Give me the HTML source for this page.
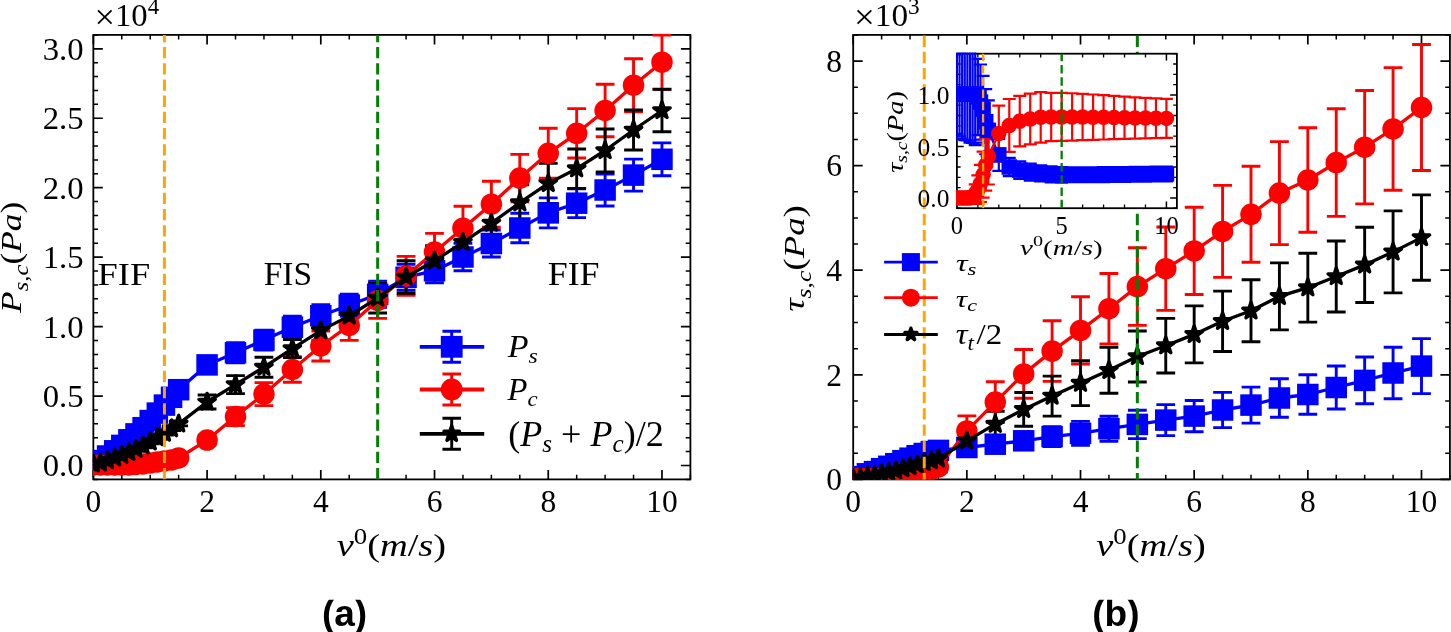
<!DOCTYPE html><html><head><meta charset="utf-8"><style>html,body{margin:0;padding:0;background:#fff;}svg{display:block;}text{font-family:"Liberation Serif", serif;fill:#000;}svg{will-change:transform;}.sans{font-family:"Liberation Sans",sans-serif;font-weight:bold;}</style></head><body>
<svg width="1451" height="632" viewBox="0 0 1451 632">
<rect width="1451" height="632" fill="#fff"/>
<defs><clipPath id="cl"><rect x="92.94999999999999" y="33.699999999999996" width="597.8499999999999" height="446.1"/></clipPath><clipPath id="cr"><rect x="852.8000000000001" y="33.699999999999996" width="597.5" height="446.1"/></clipPath><clipPath id="ci"><rect x="956.1" y="52.5" width="221.6000000000001" height="156.1"/></clipPath><clipPath id="cab"><rect x="0" y="599.8" width="1451" height="40"/></clipPath></defs>
<path d="M93.35,479.4v-9.5M93.35,34.9v9.5M207.07,479.4v-9.5M207.07,34.9v9.5M320.8,479.4v-9.5M320.8,34.9v9.5M434.52,479.4v-9.5M434.52,34.9v9.5M548.25,479.4v-9.5M548.25,34.9v9.5M661.97,479.4v-9.5M661.97,34.9v9.5M93.35,465.51h9.5M690.4,465.51h-9.5M93.35,396.06h9.5M690.4,396.06h-9.5M93.35,326.6h9.5M690.4,326.6h-9.5M93.35,257.15h9.5M690.4,257.15h-9.5M93.35,187.7h9.5M690.4,187.7h-9.5M93.35,118.24h9.5M690.4,118.24h-9.5M93.35,48.79h9.5M690.4,48.79h-9.5" stroke="#000" stroke-width="1.7" fill="none"/>
<path d="M121.78,479.4v-4.7M121.78,34.9v4.7M150.21,479.4v-4.7M150.21,34.9v4.7M178.64,479.4v-4.7M178.64,34.9v4.7M235.5,479.4v-4.7M235.5,34.9v4.7M263.94,479.4v-4.7M263.94,34.9v4.7M292.37,479.4v-4.7M292.37,34.9v4.7M349.23,479.4v-4.7M349.23,34.9v4.7M377.66,479.4v-4.7M377.66,34.9v4.7M406.09,479.4v-4.7M406.09,34.9v4.7M462.95,479.4v-4.7M462.95,34.9v4.7M491.38,479.4v-4.7M491.38,34.9v4.7M519.81,479.4v-4.7M519.81,34.9v4.7M576.68,479.4v-4.7M576.68,34.9v4.7M605.11,479.4v-4.7M605.11,34.9v4.7M633.54,479.4v-4.7M633.54,34.9v4.7M690.4,479.4v-4.7M690.4,34.9v4.7M93.35,479.4h4.7M690.4,479.4h-4.7M93.35,451.62h4.7M690.4,451.62h-4.7M93.35,437.73h4.7M690.4,437.73h-4.7M93.35,423.84h4.7M690.4,423.84h-4.7M93.35,409.95h4.7M690.4,409.95h-4.7M93.35,382.17h4.7M690.4,382.17h-4.7M93.35,368.27h4.7M690.4,368.27h-4.7M93.35,354.38h4.7M690.4,354.38h-4.7M93.35,340.49h4.7M690.4,340.49h-4.7M93.35,312.71h4.7M690.4,312.71h-4.7M93.35,298.82h4.7M690.4,298.82h-4.7M93.35,284.93h4.7M690.4,284.93h-4.7M93.35,271.04h4.7M690.4,271.04h-4.7M93.35,243.26h4.7M690.4,243.26h-4.7M93.35,229.37h4.7M690.4,229.37h-4.7M93.35,215.48h4.7M690.4,215.48h-4.7M93.35,201.59h4.7M690.4,201.59h-4.7M93.35,173.81h4.7M690.4,173.81h-4.7M93.35,159.92h4.7M690.4,159.92h-4.7M93.35,146.02h4.7M690.4,146.02h-4.7M93.35,132.13h4.7M690.4,132.13h-4.7M93.35,104.35h4.7M690.4,104.35h-4.7M93.35,90.46h4.7M690.4,90.46h-4.7M93.35,76.57h4.7M690.4,76.57h-4.7M93.35,62.68h4.7M690.4,62.68h-4.7M93.35,34.9h4.7M690.4,34.9h-4.7" stroke="#000" stroke-width="1.5" fill="none"/>
<rect x="93.35" y="34.9" width="597.05" height="444.5" fill="none" stroke="#000" stroke-width="1.8" stroke-linejoin="miter"/>
<g clip-path="url(#cl)">
<path d="M93.35,460.5V464.5M83.95,460.5H102.75M83.95,464.5H102.75M100.46,458.6V462.6M91.06,458.6H109.86M91.06,462.6H109.86M107.57,454V458M98.17,454H116.97M98.17,458H116.97M114.67,448.8V452.8M105.27,448.8H124.07M105.27,452.8H124.07M121.78,443.4V447.4M112.38,443.4H131.18M112.38,447.4H131.18M128.89,437.8V441.8M119.49,437.8H138.29M119.49,441.8H138.29M136,431.9V435.9M126.6,431.9H145.4M126.6,435.9H145.4M143.1,425.7V429.7M133.7,425.7H152.5M133.7,429.7H152.5M150.21,418.6V422.6M140.81,418.6H159.61M140.81,422.6H159.61M157.32,411.1V415.1M147.92,411.1H166.72M147.92,415.1H166.72M164.43,403.1V407.1M155.03,403.1H173.83M155.03,407.1H173.83M171.54,395.3V399.3M162.14,395.3H180.94M162.14,399.3H180.94M178.64,387.7V391.7M169.24,387.7H188.04M169.24,391.7H188.04M207.07,357.9V371.9M197.67,357.9H216.47M197.67,371.9H216.47M235.5,342.8V362.8M226.1,342.8H244.9M226.1,362.8H244.9M263.94,330.1V350.1M254.54,330.1H273.34M254.54,350.1H273.34M292.37,316.2V338.2M282.97,316.2H301.77M282.97,338.2H301.77M320.8,304.7V326.7M311.4,304.7H330.2M311.4,326.7H330.2M349.23,294.2V316.2M339.83,294.2H358.63M339.83,316.2H358.63M377.66,281.3V307.3M368.26,281.3H387.06M368.26,307.3H387.06M406.09,264.3V290.3M396.69,264.3H415.49M396.69,290.3H415.49M434.52,258.7V282.7M425.12,258.7H443.92M425.12,282.7H443.92M462.95,243.3V270.7M453.55,243.3H472.35M453.55,270.7H472.35M491.38,230V257M481.98,230H500.78M481.98,257H500.78M519.81,213.2V242.8M510.41,213.2H529.21M510.41,242.8H529.21M548.25,197.9V227.9M538.85,197.9H557.65M538.85,227.9H557.65M576.68,188.8V217.6M567.28,188.8H586.08M567.28,217.6H586.08M605.11,174V206M595.71,174H614.51M595.71,206H614.51M633.54,159.1V191.1M624.14,159.1H642.94M624.14,191.1H642.94M661.97,142.9V175.7M652.57,142.9H671.37M652.57,175.7H671.37" stroke="#0000ff" stroke-width="2.9" fill="none"/>
<path d="M93.35,463V467M83.95,463H102.75M83.95,467H102.75M100.46,463V467M91.06,463H109.86M91.06,467H109.86M107.57,463V467M98.17,463H116.97M98.17,467H116.97M114.67,463V467M105.27,463H124.07M105.27,467H124.07M121.78,463V467M112.38,463H131.18M112.38,467H131.18M128.89,463V467M119.49,463H138.29M119.49,467H138.29M136,462.5V466.5M126.6,462.5H145.4M126.6,466.5H145.4M143.1,462V466M133.7,462H152.5M133.7,466H152.5M150.21,461V465M140.81,461H159.61M140.81,465H159.61M157.32,460V464M147.92,460H166.72M147.92,464H166.72M164.43,459V463M155.03,459H173.83M155.03,463H173.83M171.54,458V462M162.14,458H180.94M162.14,462H180.94M178.64,456V460M169.24,456H188.04M169.24,460H188.04M207.07,435.1V445.1M197.67,435.1H216.47M197.67,445.1H216.47M235.5,407.6V425.6M226.1,407.6H244.9M226.1,425.6H244.9M263.94,382.6V405.6M254.54,382.6H273.34M254.54,405.6H273.34M292.37,356.7V382.3M282.97,356.7H301.77M282.97,382.3H301.77M320.8,331V361M311.4,331H330.2M311.4,361H330.2M349.23,310.4V340.4M339.83,310.4H358.63M339.83,340.4H358.63M377.66,282.4V318.4M368.26,282.4H387.06M368.26,318.4H387.06M406.09,256.4V295.4M396.69,256.4H415.49M396.69,295.4H415.49M434.52,233.4V270.4M425.12,233.4H443.92M425.12,270.4H443.92M462.95,206.2V250.2M453.55,206.2H472.35M453.55,250.2H472.35M491.38,181.2V227.2M481.98,181.2H500.78M481.98,227.2H500.78M519.81,154.4V201.8M510.41,154.4H529.21M510.41,201.8H529.21M548.25,128.3V178.3M538.85,128.3H557.65M538.85,178.3H557.65M576.68,108.6V158M567.28,108.6H586.08M567.28,158H586.08M605.11,84.2V136.8M595.71,84.2H614.51M595.71,136.8H614.51M633.54,58.7V111.7M624.14,58.7H642.94M624.14,111.7H642.94M661.97,35V89.4M652.57,35H671.37M652.57,89.4H671.37" stroke="#ff0000" stroke-width="2.9" fill="none"/>
<path d="M93.35,461.75V465.75M83.95,461.75H102.75M83.95,465.75H102.75M100.46,460.8V464.8M91.06,460.8H109.86M91.06,464.8H109.86M107.57,458.5V462.5M98.17,458.5H116.97M98.17,462.5H116.97M114.67,455.9V459.9M105.27,455.9H124.07M105.27,459.9H124.07M121.78,453.2V457.2M112.38,453.2H131.18M112.38,457.2H131.18M128.89,450.4V454.4M119.49,450.4H138.29M119.49,454.4H138.29M136,447.2V451.2M126.6,447.2H145.4M126.6,451.2H145.4M143.1,443.85V447.85M133.7,443.85H152.5M133.7,447.85H152.5M150.21,439.8V443.8M140.81,439.8H159.61M140.81,443.8H159.61M157.32,435.55V439.55M147.92,435.55H166.72M147.92,439.55H166.72M164.43,431.05V435.05M155.03,431.05H173.83M155.03,435.05H173.83M171.54,426.65V430.65M162.14,426.65H180.94M162.14,430.65H180.94M178.64,421.85V425.85M169.24,421.85H188.04M169.24,425.85H188.04M207.07,395V409M197.67,395H216.47M197.67,409H216.47M235.5,375.6V393.6M226.1,375.6H244.9M226.1,393.6H244.9M263.94,357.2V377.2M254.54,357.2H273.34M254.54,377.2H273.34M292.37,339.6V357.6M282.97,339.6H301.77M282.97,357.6H301.77M320.8,320.6V340.6M311.4,320.6H330.2M311.4,340.6H330.2M349.23,305.9V325.9M339.83,305.9H358.63M339.83,325.9H358.63M377.66,283V313M368.26,283H387.06M368.26,313H387.06M406.09,260.8V293.2M396.69,260.8H415.49M396.69,293.2H415.49M434.52,245.8V275.8M425.12,245.8H443.92M425.12,275.8H443.92M462.95,226.3V258.3M453.55,226.3H472.35M453.55,258.3H472.35M491.38,206.1V240.1M481.98,206.1H500.78M481.98,240.1H500.78M519.81,184.7V220.7M510.41,184.7H529.21M510.41,220.7H529.21M548.25,163.4V203.4M538.85,163.4H557.65M538.85,203.4H557.65M576.68,149V188.4M567.28,149H586.08M567.28,188.4H586.08M605.11,129V172M595.71,129H614.51M595.71,172H614.51M633.54,110V150M624.14,110H642.94M624.14,150H642.94M661.97,89.2V131.8M652.57,89.2H671.37M652.57,131.8H671.37" stroke="#000000" stroke-width="2.9" fill="none"/>
<path d="M93.35,462.5 L100.46,460.6 L107.57,456 L114.67,450.8 L121.78,445.4 L128.89,439.8 L136,433.9 L143.1,427.7 L150.21,420.6 L157.32,413.1 L164.43,405.1 L171.54,397.3 L178.64,389.7 L207.07,364.9 L235.5,352.8 L263.94,340.1 L292.37,327.2 L320.8,315.7 L349.23,305.2 L377.66,294.3 L406.09,277.3 L434.52,270.7 L462.95,257 L491.38,243.5 L519.81,228 L548.25,212.9 L576.68,203.2 L605.11,190 L633.54,175.1 L661.97,159.3" stroke="#0000ff" stroke-width="3.3" fill="none" stroke-linejoin="round"/>
<rect x="82.6" y="451.75" width="21.5" height="21.5" fill="#0000ff"/><rect x="89.71" y="449.85" width="21.5" height="21.5" fill="#0000ff"/><rect x="96.82" y="445.25" width="21.5" height="21.5" fill="#0000ff"/><rect x="103.92" y="440.05" width="21.5" height="21.5" fill="#0000ff"/><rect x="111.03" y="434.65" width="21.5" height="21.5" fill="#0000ff"/><rect x="118.14" y="429.05" width="21.5" height="21.5" fill="#0000ff"/><rect x="125.25" y="423.15" width="21.5" height="21.5" fill="#0000ff"/><rect x="132.35" y="416.95" width="21.5" height="21.5" fill="#0000ff"/><rect x="139.46" y="409.85" width="21.5" height="21.5" fill="#0000ff"/><rect x="146.57" y="402.35" width="21.5" height="21.5" fill="#0000ff"/><rect x="153.68" y="394.35" width="21.5" height="21.5" fill="#0000ff"/><rect x="160.79" y="386.55" width="21.5" height="21.5" fill="#0000ff"/><rect x="167.89" y="378.95" width="21.5" height="21.5" fill="#0000ff"/><rect x="196.32" y="354.15" width="21.5" height="21.5" fill="#0000ff"/><rect x="224.75" y="342.05" width="21.5" height="21.5" fill="#0000ff"/><rect x="253.19" y="329.35" width="21.5" height="21.5" fill="#0000ff"/><rect x="281.62" y="316.45" width="21.5" height="21.5" fill="#0000ff"/><rect x="310.05" y="304.95" width="21.5" height="21.5" fill="#0000ff"/><rect x="338.48" y="294.45" width="21.5" height="21.5" fill="#0000ff"/><rect x="366.91" y="283.55" width="21.5" height="21.5" fill="#0000ff"/><rect x="395.34" y="266.55" width="21.5" height="21.5" fill="#0000ff"/><rect x="423.77" y="259.95" width="21.5" height="21.5" fill="#0000ff"/><rect x="452.2" y="246.25" width="21.5" height="21.5" fill="#0000ff"/><rect x="480.63" y="232.75" width="21.5" height="21.5" fill="#0000ff"/><rect x="509.06" y="217.25" width="21.5" height="21.5" fill="#0000ff"/><rect x="537.5" y="202.15" width="21.5" height="21.5" fill="#0000ff"/><rect x="565.93" y="192.45" width="21.5" height="21.5" fill="#0000ff"/><rect x="594.36" y="179.25" width="21.5" height="21.5" fill="#0000ff"/><rect x="622.79" y="164.35" width="21.5" height="21.5" fill="#0000ff"/><rect x="651.22" y="148.55" width="21.5" height="21.5" fill="#0000ff"/>
<path d="M93.35,465 L100.46,465 L107.57,465 L114.67,465 L121.78,465 L128.89,465 L136,464.5 L143.1,464 L150.21,463 L157.32,462 L164.43,461 L171.54,460 L178.64,458 L207.07,440.1 L235.5,416.6 L263.94,394.1 L292.37,369.5 L320.8,346 L349.23,325.4 L377.66,300.4 L406.09,275.9 L434.52,251.9 L462.95,228.2 L491.38,204.2 L519.81,178.1 L548.25,153.3 L576.68,133.3 L605.11,110.5 L633.54,85.2 L661.97,62.2" stroke="#ff0000" stroke-width="3.3" fill="none" stroke-linejoin="round"/>
<circle cx="93.35" cy="465" r="10.75" fill="#ff0000"/><circle cx="100.46" cy="465" r="10.75" fill="#ff0000"/><circle cx="107.57" cy="465" r="10.75" fill="#ff0000"/><circle cx="114.67" cy="465" r="10.75" fill="#ff0000"/><circle cx="121.78" cy="465" r="10.75" fill="#ff0000"/><circle cx="128.89" cy="465" r="10.75" fill="#ff0000"/><circle cx="136" cy="464.5" r="10.75" fill="#ff0000"/><circle cx="143.1" cy="464" r="10.75" fill="#ff0000"/><circle cx="150.21" cy="463" r="10.75" fill="#ff0000"/><circle cx="157.32" cy="462" r="10.75" fill="#ff0000"/><circle cx="164.43" cy="461" r="10.75" fill="#ff0000"/><circle cx="171.54" cy="460" r="10.75" fill="#ff0000"/><circle cx="178.64" cy="458" r="10.75" fill="#ff0000"/><circle cx="207.07" cy="440.1" r="10.75" fill="#ff0000"/><circle cx="235.5" cy="416.6" r="10.75" fill="#ff0000"/><circle cx="263.94" cy="394.1" r="10.75" fill="#ff0000"/><circle cx="292.37" cy="369.5" r="10.75" fill="#ff0000"/><circle cx="320.8" cy="346" r="10.75" fill="#ff0000"/><circle cx="349.23" cy="325.4" r="10.75" fill="#ff0000"/><circle cx="377.66" cy="300.4" r="10.75" fill="#ff0000"/><circle cx="406.09" cy="275.9" r="10.75" fill="#ff0000"/><circle cx="434.52" cy="251.9" r="10.75" fill="#ff0000"/><circle cx="462.95" cy="228.2" r="10.75" fill="#ff0000"/><circle cx="491.38" cy="204.2" r="10.75" fill="#ff0000"/><circle cx="519.81" cy="178.1" r="10.75" fill="#ff0000"/><circle cx="548.25" cy="153.3" r="10.75" fill="#ff0000"/><circle cx="576.68" cy="133.3" r="10.75" fill="#ff0000"/><circle cx="605.11" cy="110.5" r="10.75" fill="#ff0000"/><circle cx="633.54" cy="85.2" r="10.75" fill="#ff0000"/><circle cx="661.97" cy="62.2" r="10.75" fill="#ff0000"/>
<path d="M93.35,463.75 L100.46,462.8 L107.57,460.5 L114.67,457.9 L121.78,455.2 L128.89,452.4 L136,449.2 L143.1,445.85 L150.21,441.8 L157.32,437.55 L164.43,433.05 L171.54,428.65 L178.64,423.85 L207.07,402 L235.5,384.6 L263.94,367.2 L292.37,348.6 L320.8,330.6 L349.23,315.9 L377.66,298 L406.09,277 L434.52,260.8 L462.95,242.3 L491.38,223.1 L519.81,202.7 L548.25,183.4 L576.68,168.7 L605.11,150.5 L633.54,130 L661.97,110.5" stroke="#000000" stroke-width="3.3" fill="none" stroke-linejoin="round"/>
<path d="M93.35,455.15 L91.42,461.09 L85.17,461.09 L90.23,464.77 L88.3,470.71 L93.35,467.03 L98.4,470.71 L96.47,464.77 L101.53,461.09 L95.28,461.09Z" fill="#000000" stroke="#000000" stroke-width="3.4" stroke-linejoin="round"/><path d="M100.46,454.2 L98.53,460.14 L92.28,460.14 L97.33,463.82 L95.4,469.76 L100.46,466.08 L105.51,469.76 L103.58,463.82 L108.64,460.14 L102.39,460.14Z" fill="#000000" stroke="#000000" stroke-width="3.4" stroke-linejoin="round"/><path d="M107.57,451.9 L105.63,457.84 L99.39,457.84 L104.44,461.52 L102.51,467.46 L107.57,463.78 L112.62,467.46 L110.69,461.52 L115.74,457.84 L109.5,457.84Z" fill="#000000" stroke="#000000" stroke-width="3.4" stroke-linejoin="round"/><path d="M114.67,449.3 L112.74,455.24 L106.49,455.24 L111.55,458.92 L109.62,464.86 L114.67,461.18 L119.73,464.86 L117.8,458.92 L122.85,455.24 L116.6,455.24Z" fill="#000000" stroke="#000000" stroke-width="3.4" stroke-linejoin="round"/><path d="M121.78,446.6 L119.85,452.54 L113.6,452.54 L118.66,456.22 L116.73,462.16 L121.78,458.48 L126.84,462.16 L124.91,456.22 L129.96,452.54 L123.71,452.54Z" fill="#000000" stroke="#000000" stroke-width="3.4" stroke-linejoin="round"/><path d="M128.89,443.8 L126.96,449.74 L120.71,449.74 L125.76,453.42 L123.83,459.36 L128.89,455.68 L133.94,459.36 L132.01,453.42 L137.07,449.74 L130.82,449.74Z" fill="#000000" stroke="#000000" stroke-width="3.4" stroke-linejoin="round"/><path d="M136,440.6 L134.07,446.54 L127.82,446.54 L132.87,450.22 L130.94,456.16 L136,452.48 L141.05,456.16 L139.12,450.22 L144.18,446.54 L137.93,446.54Z" fill="#000000" stroke="#000000" stroke-width="3.4" stroke-linejoin="round"/><path d="M143.1,437.25 L141.17,443.19 L134.93,443.19 L139.98,446.87 L138.05,452.81 L143.1,449.13 L148.16,452.81 L146.23,446.87 L151.28,443.19 L145.03,443.19Z" fill="#000000" stroke="#000000" stroke-width="3.4" stroke-linejoin="round"/><path d="M150.21,433.2 L148.28,439.14 L142.03,439.14 L147.09,442.82 L145.16,448.76 L150.21,445.08 L155.27,448.76 L153.34,442.82 L158.39,439.14 L152.14,439.14Z" fill="#000000" stroke="#000000" stroke-width="3.4" stroke-linejoin="round"/><path d="M157.32,428.95 L155.39,434.89 L149.14,434.89 L154.2,438.57 L152.26,444.51 L157.32,440.83 L162.37,444.51 L160.44,438.57 L165.5,434.89 L159.25,434.89Z" fill="#000000" stroke="#000000" stroke-width="3.4" stroke-linejoin="round"/><path d="M164.43,424.45 L162.5,430.39 L156.25,430.39 L161.3,434.07 L159.37,440.01 L164.43,436.33 L169.48,440.01 L167.55,434.07 L172.61,430.39 L166.36,430.39Z" fill="#000000" stroke="#000000" stroke-width="3.4" stroke-linejoin="round"/><path d="M171.54,420.05 L169.6,425.99 L163.36,425.99 L168.41,429.67 L166.48,435.61 L171.54,431.93 L176.59,435.61 L174.66,429.67 L179.71,425.99 L173.47,425.99Z" fill="#000000" stroke="#000000" stroke-width="3.4" stroke-linejoin="round"/><path d="M178.64,415.25 L176.71,421.19 L170.46,421.19 L175.52,424.87 L173.59,430.81 L178.64,427.13 L183.7,430.81 L181.77,424.87 L186.82,421.19 L180.57,421.19Z" fill="#000000" stroke="#000000" stroke-width="3.4" stroke-linejoin="round"/><path d="M207.07,393.4 L205.14,399.34 L198.89,399.34 L203.95,403.02 L202.02,408.96 L207.07,405.28 L212.13,408.96 L210.2,403.02 L215.25,399.34 L209,399.34Z" fill="#000000" stroke="#000000" stroke-width="3.4" stroke-linejoin="round"/><path d="M235.5,376 L233.57,381.94 L227.33,381.94 L232.38,385.62 L230.45,391.56 L235.5,387.88 L240.56,391.56 L238.63,385.62 L243.68,381.94 L237.44,381.94Z" fill="#000000" stroke="#000000" stroke-width="3.4" stroke-linejoin="round"/><path d="M263.94,358.6 L262,364.54 L255.76,364.54 L260.81,368.22 L258.88,374.16 L263.94,370.48 L268.99,374.16 L267.06,368.22 L272.11,364.54 L265.87,364.54Z" fill="#000000" stroke="#000000" stroke-width="3.4" stroke-linejoin="round"/><path d="M292.37,340 L290.44,345.94 L284.19,345.94 L289.24,349.62 L287.31,355.56 L292.37,351.88 L297.42,355.56 L295.49,349.62 L300.55,345.94 L294.3,345.94Z" fill="#000000" stroke="#000000" stroke-width="3.4" stroke-linejoin="round"/><path d="M320.8,322 L318.87,327.94 L312.62,327.94 L317.67,331.62 L315.74,337.56 L320.8,333.88 L325.85,337.56 L323.92,331.62 L328.98,327.94 L322.73,327.94Z" fill="#000000" stroke="#000000" stroke-width="3.4" stroke-linejoin="round"/><path d="M349.23,307.3 L347.3,313.24 L341.05,313.24 L346.1,316.92 L344.17,322.86 L349.23,319.18 L354.28,322.86 L352.35,316.92 L357.41,313.24 L351.16,313.24Z" fill="#000000" stroke="#000000" stroke-width="3.4" stroke-linejoin="round"/><path d="M377.66,289.4 L375.73,295.34 L369.48,295.34 L374.54,299.02 L372.6,304.96 L377.66,301.28 L382.71,304.96 L380.78,299.02 L385.84,295.34 L379.59,295.34Z" fill="#000000" stroke="#000000" stroke-width="3.4" stroke-linejoin="round"/><path d="M406.09,268.4 L404.16,274.34 L397.91,274.34 L402.97,278.02 L401.04,283.96 L406.09,280.28 L411.15,283.96 L409.21,278.02 L414.27,274.34 L408.02,274.34Z" fill="#000000" stroke="#000000" stroke-width="3.4" stroke-linejoin="round"/><path d="M434.52,252.2 L432.59,258.14 L426.34,258.14 L431.4,261.82 L429.47,267.76 L434.52,264.08 L439.58,267.76 L437.65,261.82 L442.7,258.14 L436.45,258.14Z" fill="#000000" stroke="#000000" stroke-width="3.4" stroke-linejoin="round"/><path d="M462.95,233.7 L461.02,239.64 L454.77,239.64 L459.83,243.32 L457.9,249.26 L462.95,245.58 L468.01,249.26 L466.08,243.32 L471.13,239.64 L464.88,239.64Z" fill="#000000" stroke="#000000" stroke-width="3.4" stroke-linejoin="round"/><path d="M491.38,214.5 L489.45,220.44 L483.2,220.44 L488.26,224.12 L486.33,230.06 L491.38,226.38 L496.44,230.06 L494.51,224.12 L499.56,220.44 L493.31,220.44Z" fill="#000000" stroke="#000000" stroke-width="3.4" stroke-linejoin="round"/><path d="M519.81,194.1 L517.88,200.04 L511.64,200.04 L516.69,203.72 L514.76,209.66 L519.81,205.98 L524.87,209.66 L522.94,203.72 L527.99,200.04 L521.75,200.04Z" fill="#000000" stroke="#000000" stroke-width="3.4" stroke-linejoin="round"/><path d="M548.25,174.8 L546.31,180.74 L540.07,180.74 L545.12,184.42 L543.19,190.36 L548.25,186.68 L553.3,190.36 L551.37,184.42 L556.42,180.74 L550.18,180.74Z" fill="#000000" stroke="#000000" stroke-width="3.4" stroke-linejoin="round"/><path d="M576.68,160.1 L574.75,166.04 L568.5,166.04 L573.55,169.72 L571.62,175.66 L576.68,171.98 L581.73,175.66 L579.8,169.72 L584.86,166.04 L578.61,166.04Z" fill="#000000" stroke="#000000" stroke-width="3.4" stroke-linejoin="round"/><path d="M605.11,141.9 L603.18,147.84 L596.93,147.84 L601.98,151.52 L600.05,157.46 L605.11,153.78 L610.16,157.46 L608.23,151.52 L613.29,147.84 L607.04,147.84Z" fill="#000000" stroke="#000000" stroke-width="3.4" stroke-linejoin="round"/><path d="M633.54,121.4 L631.61,127.34 L625.36,127.34 L630.41,131.02 L628.48,136.96 L633.54,133.28 L638.59,136.96 L636.66,131.02 L641.72,127.34 L635.47,127.34Z" fill="#000000" stroke="#000000" stroke-width="3.4" stroke-linejoin="round"/><path d="M661.97,101.9 L660.04,107.84 L653.79,107.84 L658.84,111.52 L656.91,117.46 L661.97,113.78 L667.02,117.46 L665.09,111.52 L670.15,107.84 L663.9,107.84Z" fill="#000000" stroke="#000000" stroke-width="3.4" stroke-linejoin="round"/>
<path d="M164.43,479.3V34.9" stroke="#ffa500" stroke-width="3" stroke-dasharray="11.31 4.88" stroke-dashoffset="0" fill="none"/>
<path d="M377.66,479.3V34.9" stroke="#008000" stroke-width="3" stroke-dasharray="11.31 4.88" stroke-dashoffset="0" fill="none"/>
</g>
<text x="93.35" y="512.3" font-size="31.5" text-anchor="middle" >0</text>
<text x="207.07" y="512.3" font-size="31.5" text-anchor="middle" >2</text>
<text x="320.8" y="512.3" font-size="31.5" text-anchor="middle" >4</text>
<text x="434.52" y="512.3" font-size="31.5" text-anchor="middle" >6</text>
<text x="548.25" y="512.3" font-size="31.5" text-anchor="middle" >8</text>
<text x="661.97" y="512.3" font-size="31.5" text-anchor="middle" >10</text>
<text transform="translate(83.6,476.41) scale(1.04,1.02)" font-size="31.5" text-anchor="end">0.0</text>
<text transform="translate(83.6,406.96) scale(1.04,1.02)" font-size="31.5" text-anchor="end">0.5</text>
<text transform="translate(83.6,337.5) scale(1.04,1.02)" font-size="31.5" text-anchor="end">1.0</text>
<text transform="translate(83.6,268.05) scale(1.04,1.02)" font-size="31.5" text-anchor="end">1.5</text>
<text transform="translate(83.6,198.6) scale(1.04,1.02)" font-size="31.5" text-anchor="end">2.0</text>
<text transform="translate(83.6,129.14) scale(1.04,1.02)" font-size="31.5" text-anchor="end">2.5</text>
<text transform="translate(83.6,59.69) scale(1.04,1.02)" font-size="31.5" text-anchor="end">3.0</text>
<text x="100" y="200" font-size="31.5" transform="translate(97.6,0) scale(1.0390,1.0077) translate(-103,-174)" ><tspan font-size="35" dy="3">×</tspan><tspan dy="-3">10</tspan><tspan font-size="22" dy="-12">4</tspan></text>
<text x="100" y="200" font-size="31.5" transform="translate(337.9,529.5) scale(1.2195,1.0094) translate(-101,-174)" ><tspan font-style="italic">v</tspan><tspan font-size="22" dy="-12">0</tspan><tspan dy="12">(</tspan><tspan font-style="italic">m</tspan>/<tspan font-style="italic">s</tspan>)</text>
<text x="100" y="200" font-size="31.5" transform="translate(0,312.9) rotate(-90) scale(1.1224,0.9500) translate(-100,-178)" ><tspan font-style="italic">P</tspan><tspan font-size="22" dy="7" font-style="italic">s</tspan><tspan font-size="22">,</tspan><tspan font-size="22" dy="0" font-style="italic">c</tspan><tspan dy="-7">(</tspan><tspan font-style="italic">Pa</tspan>)</text>
<text x="100" y="200" font-size="30" transform="translate(98.8,264.6) scale(1.2122,1.0842) translate(-101,-181)" >FIF</text>
<text x="100" y="200" font-size="30" transform="translate(264.8,263.5) scale(1.1146,1.1579) translate(-101,-181)" >FIS</text>
<text x="100" y="200" font-size="30" transform="translate(548.9,263.8) scale(1.1951,1.1158) translate(-101,-181)" >FIF</text>
<path d="M419.8,346.8H484.2" stroke="#0000ff" stroke-width="3.8"/>
<path d="M451.7,331.3V362.3M442.45,331.3H460.95M442.45,362.3H460.95" stroke="#0000ff" stroke-width="2.9" fill="none"/>
<rect x="440.8" y="335.9" width="21.8" height="21.8" fill="#0000ff"/>
<text x="100" y="200" font-size="31.5" transform="translate(507.8,337) scale(1.0815,0.9704) translate(-100,-179)" ><tspan font-style="italic">P</tspan><tspan font-size="22" dy="6" font-style="italic">s</tspan></text>
<path d="M419.8,389.5H484.2" stroke="#ff0000" stroke-width="3.8"/>
<path d="M451.7,374V405M442.45,374H460.95M442.45,405H460.95" stroke="#ff0000" stroke-width="2.9" fill="none"/>
<circle cx="451.7" cy="389.5" r="10.9" fill="#ff0000"/>
<text x="100" y="200" font-size="31.5" transform="translate(507.6,379.4) scale(1.0379,0.9741) translate(-100,-179)" ><tspan font-style="italic">P</tspan><tspan font-size="22" dy="6" font-style="italic">c</tspan></text>
<path d="M419.8,433.8H484.2" stroke="#000000" stroke-width="3.8"/>
<path d="M451.7,418.3V449.3M442.45,418.3H460.95M442.45,449.3H460.95" stroke="#000000" stroke-width="2.9" fill="none"/>
<path d="M451.7,425.7 L449.88,431.3 L444,431.3 L448.76,434.76 L446.94,440.35 L451.7,436.89 L456.46,440.35 L454.64,434.76 L459.4,431.3 L453.52,431.3Z" fill="#000000" stroke="#000000" stroke-width="3.4" stroke-linejoin="round"/>
<text x="100" y="200" font-size="31.5" transform="translate(509.4,421.1) scale(1.1451,1.1107) translate(-101,-178)" >(<tspan font-style="italic">P</tspan><tspan font-size="22" dy="6" font-style="italic">s</tspan><tspan dy="-6"> + </tspan><tspan font-style="italic">P</tspan><tspan font-size="22" dy="6" font-style="italic">c</tspan><tspan dy="-6">)/2</tspan></text>
<path d="M853.2,479.4v-9.5M853.2,34.9v9.5M966.86,479.4v-9.5M966.86,34.9v9.5M1080.51,479.4v-9.5M1080.51,34.9v9.5M1194.17,479.4v-9.5M1194.17,34.9v9.5M1307.83,479.4v-9.5M1307.83,34.9v9.5M1421.49,479.4v-9.5M1421.49,34.9v9.5M853.2,479.4h9.5M1449.9,479.4h-9.5M853.2,374.81h9.5M1449.9,374.81h-9.5M853.2,270.22h9.5M1449.9,270.22h-9.5M853.2,165.64h9.5M1449.9,165.64h-9.5M853.2,61.05h9.5M1449.9,61.05h-9.5" stroke="#000" stroke-width="1.7" fill="none"/>
<path d="M881.61,479.4v-4.7M881.61,34.9v4.7M910.03,479.4v-4.7M910.03,34.9v4.7M938.44,479.4v-4.7M938.44,34.9v4.7M995.27,479.4v-4.7M995.27,34.9v4.7M1023.69,479.4v-4.7M1023.69,34.9v4.7M1052.1,479.4v-4.7M1052.1,34.9v4.7M1108.93,479.4v-4.7M1108.93,34.9v4.7M1137.34,479.4v-4.7M1137.34,34.9v4.7M1165.76,479.4v-4.7M1165.76,34.9v4.7M1222.59,479.4v-4.7M1222.59,34.9v4.7M1251,479.4v-4.7M1251,34.9v4.7M1279.41,479.4v-4.7M1279.41,34.9v4.7M1336.24,479.4v-4.7M1336.24,34.9v4.7M1364.66,479.4v-4.7M1364.66,34.9v4.7M1393.07,479.4v-4.7M1393.07,34.9v4.7M1449.9,479.4v-4.7M1449.9,34.9v4.7M853.2,453.25h4.7M1449.9,453.25h-4.7M853.2,427.11h4.7M1449.9,427.11h-4.7M853.2,400.96h4.7M1449.9,400.96h-4.7M853.2,348.66h4.7M1449.9,348.66h-4.7M853.2,322.52h4.7M1449.9,322.52h-4.7M853.2,296.37h4.7M1449.9,296.37h-4.7M853.2,244.08h4.7M1449.9,244.08h-4.7M853.2,217.93h4.7M1449.9,217.93h-4.7M853.2,191.78h4.7M1449.9,191.78h-4.7M853.2,139.49h4.7M1449.9,139.49h-4.7M853.2,113.34h4.7M1449.9,113.34h-4.7M853.2,87.19h4.7M1449.9,87.19h-4.7M853.2,34.9h4.7M1449.9,34.9h-4.7" stroke="#000" stroke-width="1.5" fill="none"/>
<rect x="853.2" y="34.9" width="596.7" height="444.5" fill="none" stroke="#000" stroke-width="1.8" stroke-linejoin="miter"/>
<g clip-path="url(#cr)">
<path d="M853.2,476V480M843.8,476H862.6M843.8,480H862.6M860.3,474.7V478.7M850.9,474.7H869.7M850.9,478.7H869.7M867.41,471.8V475.8M858.01,471.8H876.81M858.01,475.8H876.81M874.51,469.6V473.6M865.11,469.6H883.91M865.11,473.6H883.91M881.61,466.7V470.7M872.21,466.7H891.01M872.21,470.7H891.01M888.72,464.3V468.3M879.32,464.3H898.12M879.32,468.3H898.12M895.82,461.7V465.7M886.42,461.7H905.22M886.42,465.7H905.22M902.93,458.7V462.7M893.53,458.7H912.33M893.53,462.7H912.33M910.03,456.2V460.2M900.63,456.2H919.43M900.63,460.2H919.43M917.13,453.7V457.7M907.73,453.7H926.53M907.73,457.7H926.53M924.24,451.5V455.5M914.84,451.5H933.64M914.84,455.5H933.64M931.34,449.6V453.6M921.94,449.6H940.74M921.94,453.6H940.74M938.44,448.4V452.4M929.04,448.4H947.84M929.04,452.4H947.84M966.86,441.5V453.5M957.46,441.5H976.26M957.46,453.5H976.26M995.27,437.2V451.2M985.87,437.2H1004.67M985.87,451.2H1004.67M1023.69,432.8V448.8M1014.29,432.8H1033.09M1014.29,448.8H1033.09M1052.1,426.6V446.6M1042.7,426.6H1061.5M1042.7,446.6H1061.5M1080.51,421.4V445.4M1071.11,421.4H1089.91M1071.11,445.4H1089.91M1108.93,416.2V441.2M1099.53,416.2H1118.33M1099.53,441.2H1118.33M1137.34,410.2V438.6M1127.94,410.2H1146.74M1127.94,438.6H1146.74M1165.76,404.6V435.6M1156.36,404.6H1175.16M1156.36,435.6H1175.16M1194.17,400.5V431.7M1184.77,400.5H1203.57M1184.77,431.7H1203.57M1222.59,392.4V427.6M1213.19,392.4H1231.99M1213.19,427.6H1231.99M1251,387.1V423.1M1241.6,387.1H1260.4M1241.6,423.1H1260.4M1279.41,378.8V417.2M1270.01,378.8H1288.81M1270.01,417.2H1288.81M1307.83,374.7V414.3M1298.43,374.7H1317.23M1298.43,414.3H1317.23M1336.24,366V409M1326.84,366H1345.64M1326.84,409H1345.64M1364.66,357V403.8M1355.26,357H1374.06M1355.26,403.8H1374.06M1393.07,347.2V398.8M1383.67,347.2H1402.47M1383.67,398.8H1402.47M1421.49,338.6V393.6M1412.09,338.6H1430.89M1412.09,393.6H1430.89" stroke="#0000ff" stroke-width="2.9" fill="none"/>
<path d="M853.2,477.5V479.5M843.8,477.5H862.6M843.8,479.5H862.6M860.3,477.5V479.5M850.9,477.5H869.7M850.9,479.5H869.7M867.41,477.5V479.5M858.01,477.5H876.81M858.01,479.5H876.81M874.51,477.5V479.5M865.11,477.5H883.91M865.11,479.5H883.91M881.61,477.5V479.5M872.21,477.5H891.01M872.21,479.5H891.01M888.72,477.5V479.5M879.32,477.5H898.12M879.32,479.5H898.12M895.82,475.5V479.5M886.42,475.5H905.22M886.42,479.5H905.22M902.93,474.5V478.5M893.53,474.5H912.33M893.53,478.5H912.33M910.03,472V478M900.63,472H919.43M900.63,478H919.43M917.13,470.5V476.5M907.73,470.5H926.53M907.73,476.5H926.53M924.24,467.5V475.5M914.84,467.5H933.64M914.84,475.5H933.64M931.34,465.5V473.5M921.94,465.5H940.74M921.94,473.5H940.74M938.44,462V472M929.04,462H947.84M929.04,472H947.84M966.86,415.9V445.9M957.46,415.9H976.26M957.46,445.9H976.26M995.27,381.7V422.5M985.87,381.7H1004.67M985.87,422.5H1004.67M1023.69,349.5V398.3M1014.29,349.5H1033.09M1014.29,398.3H1033.09M1052.1,320.8V381.4M1042.7,320.8H1061.5M1042.7,381.4H1061.5M1080.51,296.8V364M1071.11,296.8H1089.91M1071.11,364H1089.91M1108.93,273.5V343.9M1099.53,273.5H1118.33M1099.53,343.9H1118.33M1137.34,247.8V325.4M1127.94,247.8H1146.74M1127.94,325.4H1146.74M1165.76,227V310.4M1156.36,227H1175.16M1156.36,310.4H1175.16M1194.17,207.3V294.5M1184.77,207.3H1203.57M1184.77,294.5H1203.57M1222.59,185.4V277.4M1213.19,185.4H1231.99M1213.19,277.4H1231.99M1251,166.3V262.3M1241.6,166.3H1260.4M1241.6,262.3H1260.4M1279.41,141.6V244.6M1270.01,141.6H1288.81M1270.01,244.6H1288.81M1307.83,127.7V232.3M1298.43,127.7H1317.23M1298.43,232.3H1317.23M1336.24,108.8V216.4M1326.84,108.8H1345.64M1326.84,216.4H1345.64M1364.66,90.5V203.9M1355.26,90.5H1374.06M1355.26,203.9H1374.06M1393.07,67.6V190.2M1383.67,67.6H1402.47M1383.67,190.2H1402.47M1421.49,44.5V170.5M1412.09,44.5H1430.89M1412.09,170.5H1430.89" stroke="#ff0000" stroke-width="2.9" fill="none"/>
<path d="M853.2,476.25V480.25M843.8,476.25H862.6M843.8,480.25H862.6M860.3,475.6V479.6M850.9,475.6H869.7M850.9,479.6H869.7M867.41,474.15V478.15M858.01,474.15H876.81M858.01,478.15H876.81M874.51,473.05V477.05M865.11,473.05H883.91M865.11,477.05H883.91M881.61,471.6V475.6M872.21,471.6H891.01M872.21,475.6H891.01M888.72,470.4V474.4M879.32,470.4H898.12M879.32,474.4H898.12M895.82,468.6V472.6M886.42,468.6H905.22M886.42,472.6H905.22M902.93,466.6V470.6M893.53,466.6H912.33M893.53,470.6H912.33M910.03,464.6V468.6M900.63,464.6H919.43M900.63,468.6H919.43M917.13,462.6V466.6M907.73,462.6H926.53M907.73,466.6H926.53M924.24,460.5V464.5M914.84,460.5H933.64M914.84,464.5H933.64M931.34,458.55V462.55M921.94,458.55H940.74M921.94,462.55H940.74M938.44,456.7V460.7M929.04,456.7H947.84M929.04,460.7H947.84M966.86,431.9V449.9M957.46,431.9H976.26M957.46,449.9H976.26M995.27,411.2V437.2M985.87,411.2H1004.67M985.87,437.2H1004.67M1023.69,392.5V426.3M1014.29,392.5H1033.09M1014.29,426.3H1033.09M1052.1,376.1V416.1M1042.7,376.1H1061.5M1042.7,416.1H1061.5M1080.51,360.8V405.6M1071.11,360.8H1089.91M1071.11,405.6H1089.91M1108.93,347.3V393.3M1099.53,347.3H1118.33M1099.53,393.3H1118.33M1137.34,331V382M1127.94,331H1146.74M1127.94,382H1146.74M1165.76,318.4V373M1156.36,318.4H1175.16M1156.36,373H1175.16M1194.17,305.9V362.9M1184.77,305.9H1203.57M1184.77,362.9H1203.57M1222.59,291.1V351.5M1213.19,291.1H1231.99M1213.19,351.5H1231.99M1251,279.8V341.8M1241.6,279.8H1260.4M1241.6,341.8H1260.4M1279.41,262.9V329.9M1270.01,262.9H1288.81M1270.01,329.9H1288.81M1307.83,253.3V322.1M1298.43,253.3H1317.23M1298.43,322.1H1317.23M1336.24,241V312M1326.84,241H1345.64M1326.84,312H1345.64M1364.66,227.3V302.5M1355.26,227.3H1374.06M1355.26,302.5H1374.06M1393.07,210.9V292.9M1383.67,210.9H1402.47M1383.67,292.9H1402.47M1421.49,194.9V280.3M1412.09,194.9H1430.89M1412.09,280.3H1430.89" stroke="#000000" stroke-width="2.9" fill="none"/>
<path d="M853.2,478 L860.3,476.7 L867.41,473.8 L874.51,471.6 L881.61,468.7 L888.72,466.3 L895.82,463.7 L902.93,460.7 L910.03,458.2 L917.13,455.7 L924.24,453.5 L931.34,451.6 L938.44,450.4 L966.86,447.5 L995.27,444.2 L1023.69,440.8 L1052.1,436.6 L1080.51,433.4 L1108.93,428.7 L1137.34,424.4 L1165.76,420.1 L1194.17,416.1 L1222.59,410 L1251,405.1 L1279.41,398 L1307.83,394.5 L1336.24,387.5 L1364.66,380.4 L1393.07,373 L1421.49,366.1" stroke="#0000ff" stroke-width="3.3" fill="none" stroke-linejoin="round"/>
<rect x="842.45" y="467.25" width="21.5" height="21.5" fill="#0000ff"/><rect x="849.55" y="465.95" width="21.5" height="21.5" fill="#0000ff"/><rect x="856.66" y="463.05" width="21.5" height="21.5" fill="#0000ff"/><rect x="863.76" y="460.85" width="21.5" height="21.5" fill="#0000ff"/><rect x="870.86" y="457.95" width="21.5" height="21.5" fill="#0000ff"/><rect x="877.97" y="455.55" width="21.5" height="21.5" fill="#0000ff"/><rect x="885.07" y="452.95" width="21.5" height="21.5" fill="#0000ff"/><rect x="892.18" y="449.95" width="21.5" height="21.5" fill="#0000ff"/><rect x="899.28" y="447.45" width="21.5" height="21.5" fill="#0000ff"/><rect x="906.38" y="444.95" width="21.5" height="21.5" fill="#0000ff"/><rect x="913.49" y="442.75" width="21.5" height="21.5" fill="#0000ff"/><rect x="920.59" y="440.85" width="21.5" height="21.5" fill="#0000ff"/><rect x="927.69" y="439.65" width="21.5" height="21.5" fill="#0000ff"/><rect x="956.11" y="436.75" width="21.5" height="21.5" fill="#0000ff"/><rect x="984.52" y="433.45" width="21.5" height="21.5" fill="#0000ff"/><rect x="1012.94" y="430.05" width="21.5" height="21.5" fill="#0000ff"/><rect x="1041.35" y="425.85" width="21.5" height="21.5" fill="#0000ff"/><rect x="1069.76" y="422.65" width="21.5" height="21.5" fill="#0000ff"/><rect x="1098.18" y="417.95" width="21.5" height="21.5" fill="#0000ff"/><rect x="1126.59" y="413.65" width="21.5" height="21.5" fill="#0000ff"/><rect x="1155.01" y="409.35" width="21.5" height="21.5" fill="#0000ff"/><rect x="1183.42" y="405.35" width="21.5" height="21.5" fill="#0000ff"/><rect x="1211.84" y="399.25" width="21.5" height="21.5" fill="#0000ff"/><rect x="1240.25" y="394.35" width="21.5" height="21.5" fill="#0000ff"/><rect x="1268.66" y="387.25" width="21.5" height="21.5" fill="#0000ff"/><rect x="1297.08" y="383.75" width="21.5" height="21.5" fill="#0000ff"/><rect x="1325.49" y="376.75" width="21.5" height="21.5" fill="#0000ff"/><rect x="1353.91" y="369.65" width="21.5" height="21.5" fill="#0000ff"/><rect x="1382.32" y="362.25" width="21.5" height="21.5" fill="#0000ff"/><rect x="1410.74" y="355.35" width="21.5" height="21.5" fill="#0000ff"/>
<path d="M853.2,478.5 L860.3,478.5 L867.41,478.5 L874.51,478.5 L881.61,478.5 L888.72,478.5 L895.82,477.5 L902.93,476.5 L910.03,475 L917.13,473.5 L924.24,471.5 L931.34,469.5 L938.44,467 L966.86,430.9 L995.27,402.1 L1023.69,373.9 L1052.1,351.1 L1080.51,330.4 L1108.93,308.7 L1137.34,286.6 L1165.76,268.7 L1194.17,250.9 L1222.59,231.4 L1251,214.3 L1279.41,193.1 L1307.83,180 L1336.24,162.6 L1364.66,147.2 L1393.07,128.9 L1421.49,107.5" stroke="#ff0000" stroke-width="3.3" fill="none" stroke-linejoin="round"/>
<circle cx="853.2" cy="478.5" r="10.75" fill="#ff0000"/><circle cx="860.3" cy="478.5" r="10.75" fill="#ff0000"/><circle cx="867.41" cy="478.5" r="10.75" fill="#ff0000"/><circle cx="874.51" cy="478.5" r="10.75" fill="#ff0000"/><circle cx="881.61" cy="478.5" r="10.75" fill="#ff0000"/><circle cx="888.72" cy="478.5" r="10.75" fill="#ff0000"/><circle cx="895.82" cy="477.5" r="10.75" fill="#ff0000"/><circle cx="902.93" cy="476.5" r="10.75" fill="#ff0000"/><circle cx="910.03" cy="475" r="10.75" fill="#ff0000"/><circle cx="917.13" cy="473.5" r="10.75" fill="#ff0000"/><circle cx="924.24" cy="471.5" r="10.75" fill="#ff0000"/><circle cx="931.34" cy="469.5" r="10.75" fill="#ff0000"/><circle cx="938.44" cy="467" r="10.75" fill="#ff0000"/><circle cx="966.86" cy="430.9" r="10.75" fill="#ff0000"/><circle cx="995.27" cy="402.1" r="10.75" fill="#ff0000"/><circle cx="1023.69" cy="373.9" r="10.75" fill="#ff0000"/><circle cx="1052.1" cy="351.1" r="10.75" fill="#ff0000"/><circle cx="1080.51" cy="330.4" r="10.75" fill="#ff0000"/><circle cx="1108.93" cy="308.7" r="10.75" fill="#ff0000"/><circle cx="1137.34" cy="286.6" r="10.75" fill="#ff0000"/><circle cx="1165.76" cy="268.7" r="10.75" fill="#ff0000"/><circle cx="1194.17" cy="250.9" r="10.75" fill="#ff0000"/><circle cx="1222.59" cy="231.4" r="10.75" fill="#ff0000"/><circle cx="1251" cy="214.3" r="10.75" fill="#ff0000"/><circle cx="1279.41" cy="193.1" r="10.75" fill="#ff0000"/><circle cx="1307.83" cy="180" r="10.75" fill="#ff0000"/><circle cx="1336.24" cy="162.6" r="10.75" fill="#ff0000"/><circle cx="1364.66" cy="147.2" r="10.75" fill="#ff0000"/><circle cx="1393.07" cy="128.9" r="10.75" fill="#ff0000"/><circle cx="1421.49" cy="107.5" r="10.75" fill="#ff0000"/>
<path d="M853.2,478.25 L860.3,477.6 L867.41,476.15 L874.51,475.05 L881.61,473.6 L888.72,472.4 L895.82,470.6 L902.93,468.6 L910.03,466.6 L917.13,464.6 L924.24,462.5 L931.34,460.55 L938.44,458.7 L966.86,440.9 L995.27,424.2 L1023.69,409.4 L1052.1,396.1 L1080.51,383.2 L1108.93,370.3 L1137.34,356.5 L1165.76,345.7 L1194.17,334.4 L1222.59,321.3 L1251,310.8 L1279.41,296.4 L1307.83,287.7 L1336.24,276.5 L1364.66,264.9 L1393.07,251.9 L1421.49,237.6" stroke="#000000" stroke-width="3.3" fill="none" stroke-linejoin="round"/>
<path d="M853.2,469.65 L851.27,475.59 L845.02,475.59 L850.08,479.27 L848.15,485.21 L853.2,481.53 L858.25,485.21 L856.32,479.27 L861.38,475.59 L855.13,475.59Z" fill="#000000" stroke="#000000" stroke-width="3.4" stroke-linejoin="round"/><path d="M860.3,469 L858.37,474.94 L852.12,474.94 L857.18,478.62 L855.25,484.56 L860.3,480.88 L865.36,484.56 L863.43,478.62 L868.48,474.94 L862.23,474.94Z" fill="#000000" stroke="#000000" stroke-width="3.4" stroke-linejoin="round"/><path d="M867.41,467.55 L865.48,473.49 L859.23,473.49 L864.28,477.17 L862.35,483.11 L867.41,479.43 L872.46,483.11 L870.53,477.17 L875.59,473.49 L869.34,473.49Z" fill="#000000" stroke="#000000" stroke-width="3.4" stroke-linejoin="round"/><path d="M874.51,466.45 L872.58,472.39 L866.33,472.39 L871.39,476.07 L869.46,482.01 L874.51,478.33 L879.57,482.01 L877.63,476.07 L882.69,472.39 L876.44,472.39Z" fill="#000000" stroke="#000000" stroke-width="3.4" stroke-linejoin="round"/><path d="M881.61,465 L879.68,470.94 L873.44,470.94 L878.49,474.62 L876.56,480.56 L881.61,476.88 L886.67,480.56 L884.74,474.62 L889.79,470.94 L883.55,470.94Z" fill="#000000" stroke="#000000" stroke-width="3.4" stroke-linejoin="round"/><path d="M888.72,463.8 L886.79,469.74 L880.54,469.74 L885.59,473.42 L883.66,479.36 L888.72,475.68 L893.77,479.36 L891.84,473.42 L896.9,469.74 L890.65,469.74Z" fill="#000000" stroke="#000000" stroke-width="3.4" stroke-linejoin="round"/><path d="M895.82,462 L893.89,467.94 L887.64,467.94 L892.7,471.62 L890.77,477.56 L895.82,473.88 L900.88,477.56 L898.95,471.62 L904,467.94 L897.75,467.94Z" fill="#000000" stroke="#000000" stroke-width="3.4" stroke-linejoin="round"/><path d="M902.93,460 L900.99,465.94 L894.75,465.94 L899.8,469.62 L897.87,475.56 L902.93,471.88 L907.98,475.56 L906.05,469.62 L911.1,465.94 L904.86,465.94Z" fill="#000000" stroke="#000000" stroke-width="3.4" stroke-linejoin="round"/><path d="M910.03,458 L908.1,463.94 L901.85,463.94 L906.9,467.62 L904.97,473.56 L910.03,469.88 L915.08,473.56 L913.15,467.62 L918.21,463.94 L911.96,463.94Z" fill="#000000" stroke="#000000" stroke-width="3.4" stroke-linejoin="round"/><path d="M917.13,456 L915.2,461.94 L908.95,461.94 L914.01,465.62 L912.08,471.56 L917.13,467.88 L922.19,471.56 L920.26,465.62 L925.31,461.94 L919.06,461.94Z" fill="#000000" stroke="#000000" stroke-width="3.4" stroke-linejoin="round"/><path d="M924.24,453.9 L922.3,459.84 L916.06,459.84 L921.11,463.52 L919.18,469.46 L924.24,465.78 L929.29,469.46 L927.36,463.52 L932.41,459.84 L926.17,459.84Z" fill="#000000" stroke="#000000" stroke-width="3.4" stroke-linejoin="round"/><path d="M931.34,451.95 L929.41,457.89 L923.16,457.89 L928.22,461.57 L926.28,467.51 L931.34,463.83 L936.39,467.51 L934.46,461.57 L939.52,457.89 L933.27,457.89Z" fill="#000000" stroke="#000000" stroke-width="3.4" stroke-linejoin="round"/><path d="M938.44,450.1 L936.51,456.04 L930.26,456.04 L935.32,459.72 L933.39,465.66 L938.44,461.98 L943.5,465.66 L941.57,459.72 L946.62,456.04 L940.37,456.04Z" fill="#000000" stroke="#000000" stroke-width="3.4" stroke-linejoin="round"/><path d="M966.86,432.3 L964.93,438.24 L958.68,438.24 L963.73,441.92 L961.8,447.86 L966.86,444.18 L971.91,447.86 L969.98,441.92 L975.04,438.24 L968.79,438.24Z" fill="#000000" stroke="#000000" stroke-width="3.4" stroke-linejoin="round"/><path d="M995.27,415.6 L993.34,421.54 L987.09,421.54 L992.15,425.22 L990.22,431.16 L995.27,427.48 L1000.33,431.16 L998.4,425.22 L1003.45,421.54 L997.2,421.54Z" fill="#000000" stroke="#000000" stroke-width="3.4" stroke-linejoin="round"/><path d="M1023.69,400.8 L1021.75,406.74 L1015.51,406.74 L1020.56,410.42 L1018.63,416.36 L1023.69,412.68 L1028.74,416.36 L1026.81,410.42 L1031.86,406.74 L1025.62,406.74Z" fill="#000000" stroke="#000000" stroke-width="3.4" stroke-linejoin="round"/><path d="M1052.1,387.5 L1050.17,393.44 L1043.92,393.44 L1048.98,397.12 L1047.05,403.06 L1052.1,399.38 L1057.15,403.06 L1055.22,397.12 L1060.28,393.44 L1054.03,393.44Z" fill="#000000" stroke="#000000" stroke-width="3.4" stroke-linejoin="round"/><path d="M1080.51,374.6 L1078.58,380.54 L1072.34,380.54 L1077.39,384.22 L1075.46,390.16 L1080.51,386.48 L1085.57,390.16 L1083.64,384.22 L1088.69,380.54 L1082.45,380.54Z" fill="#000000" stroke="#000000" stroke-width="3.4" stroke-linejoin="round"/><path d="M1108.93,361.7 L1107,367.64 L1100.75,367.64 L1105.8,371.32 L1103.87,377.26 L1108.93,373.58 L1113.98,377.26 L1112.05,371.32 L1117.11,367.64 L1110.86,367.64Z" fill="#000000" stroke="#000000" stroke-width="3.4" stroke-linejoin="round"/><path d="M1137.34,347.9 L1135.41,353.84 L1129.16,353.84 L1134.22,357.52 L1132.29,363.46 L1137.34,359.78 L1142.4,363.46 L1140.47,357.52 L1145.52,353.84 L1139.27,353.84Z" fill="#000000" stroke="#000000" stroke-width="3.4" stroke-linejoin="round"/><path d="M1165.76,337.1 L1163.83,343.04 L1157.58,343.04 L1162.63,346.72 L1160.7,352.66 L1165.76,348.98 L1170.81,352.66 L1168.88,346.72 L1173.94,343.04 L1167.69,343.04Z" fill="#000000" stroke="#000000" stroke-width="3.4" stroke-linejoin="round"/><path d="M1194.17,325.8 L1192.24,331.74 L1185.99,331.74 L1191.05,335.42 L1189.12,341.36 L1194.17,337.68 L1199.23,341.36 L1197.3,335.42 L1202.35,331.74 L1196.1,331.74Z" fill="#000000" stroke="#000000" stroke-width="3.4" stroke-linejoin="round"/><path d="M1222.59,312.7 L1220.65,318.64 L1214.41,318.64 L1219.46,322.32 L1217.53,328.26 L1222.59,324.58 L1227.64,328.26 L1225.71,322.32 L1230.76,318.64 L1224.52,318.64Z" fill="#000000" stroke="#000000" stroke-width="3.4" stroke-linejoin="round"/><path d="M1251,302.2 L1249.07,308.14 L1242.82,308.14 L1247.88,311.82 L1245.95,317.76 L1251,314.08 L1256.05,317.76 L1254.12,311.82 L1259.18,308.14 L1252.93,308.14Z" fill="#000000" stroke="#000000" stroke-width="3.4" stroke-linejoin="round"/><path d="M1279.41,287.8 L1277.48,293.74 L1271.24,293.74 L1276.29,297.42 L1274.36,303.36 L1279.41,299.68 L1284.47,303.36 L1282.54,297.42 L1287.59,293.74 L1281.35,293.74Z" fill="#000000" stroke="#000000" stroke-width="3.4" stroke-linejoin="round"/><path d="M1307.83,279.1 L1305.9,285.04 L1299.65,285.04 L1304.7,288.72 L1302.77,294.66 L1307.83,290.98 L1312.88,294.66 L1310.95,288.72 L1316.01,285.04 L1309.76,285.04Z" fill="#000000" stroke="#000000" stroke-width="3.4" stroke-linejoin="round"/><path d="M1336.24,267.9 L1334.31,273.84 L1328.06,273.84 L1333.12,277.52 L1331.19,283.46 L1336.24,279.78 L1341.3,283.46 L1339.37,277.52 L1344.42,273.84 L1338.17,273.84Z" fill="#000000" stroke="#000000" stroke-width="3.4" stroke-linejoin="round"/><path d="M1364.66,256.3 L1362.73,262.24 L1356.48,262.24 L1361.53,265.92 L1359.6,271.86 L1364.66,268.18 L1369.71,271.86 L1367.78,265.92 L1372.84,262.24 L1366.59,262.24Z" fill="#000000" stroke="#000000" stroke-width="3.4" stroke-linejoin="round"/><path d="M1393.07,243.3 L1391.14,249.24 L1384.89,249.24 L1389.95,252.92 L1388.02,258.86 L1393.07,255.18 L1398.13,258.86 L1396.2,252.92 L1401.25,249.24 L1395,249.24Z" fill="#000000" stroke="#000000" stroke-width="3.4" stroke-linejoin="round"/><path d="M1421.49,229 L1419.55,234.94 L1413.31,234.94 L1418.36,238.62 L1416.43,244.56 L1421.49,240.88 L1426.54,244.56 L1424.61,238.62 L1429.66,234.94 L1423.42,234.94Z" fill="#000000" stroke="#000000" stroke-width="3.4" stroke-linejoin="round"/>
<path d="M924.24,35.6V479.4" stroke="#ffa500" stroke-width="3" stroke-dasharray="11.35 4.85" stroke-dashoffset="0" fill="none"/>
<path d="M1137.34,35.6V479.4" stroke="#008000" stroke-width="3" stroke-dasharray="11.35 4.85" stroke-dashoffset="0" fill="none"/>
</g>
<text x="853.2" y="512.3" font-size="31.5" text-anchor="middle" >0</text>
<text x="966.86" y="512.3" font-size="31.5" text-anchor="middle" >2</text>
<text x="1080.51" y="512.3" font-size="31.5" text-anchor="middle" >4</text>
<text x="1194.17" y="512.3" font-size="31.5" text-anchor="middle" >6</text>
<text x="1307.83" y="512.3" font-size="31.5" text-anchor="middle" >8</text>
<text x="1421.49" y="512.3" font-size="31.5" text-anchor="middle" >10</text>
<text x="842" y="490.2" font-size="31.5" text-anchor="end" >0</text>
<text x="842" y="385.61" font-size="31.5" text-anchor="end" >2</text>
<text x="842" y="281.02" font-size="31.5" text-anchor="end" >4</text>
<text x="842" y="176.44" font-size="31.5" text-anchor="end" >6</text>
<text x="842" y="71.85" font-size="31.5" text-anchor="end" >8</text>
<text x="100" y="200" font-size="31.5" transform="translate(857.1,0) scale(1.0569,1.0077) translate(-103,-174)" ><tspan font-size="35" dy="3">×</tspan><tspan dy="-3">10</tspan><tspan font-size="22" dy="-12">3</tspan></text>
<text x="100" y="200" font-size="31.5" transform="translate(1097.4,529.5) scale(1.2207,1.0094) translate(-101,-174)" ><tspan font-style="italic">v</tspan><tspan font-size="22" dy="-12">0</tspan><tspan dy="12">(</tspan><tspan font-style="italic">m</tspan>/<tspan font-style="italic">s</tspan>)</text>
<text x="100" y="200" font-size="31.5" transform="translate(783.2,310.4) rotate(-90) scale(1.1685,0.9594) translate(-101,-178)" ><tspan font-style="italic">τ</tspan><tspan font-size="22" dy="7" font-style="italic">s</tspan><tspan font-size="22">,</tspan><tspan font-size="22" dy="0" font-style="italic">c</tspan><tspan dy="-7">(</tspan><tspan font-style="italic">Pa</tspan>)</text>
<path d="M884.1,262.1H937.8" stroke="#0000ff" stroke-width="2.8"/>
<rect x="901.9" y="253.1" width="18" height="18" fill="#0000ff"/>
<text x="100" y="200" font-size="27" transform="translate(957.2,259.1) scale(1.1937,0.8778) translate(-101,-187)" ><tspan font-style="italic">τ</tspan><tspan font-size="19" dy="5" font-style="italic">s</tspan></text>
<path d="M884.1,297.7H937.8" stroke="#ff0000" stroke-width="2.8"/>
<circle cx="910.9" cy="297.7" r="9" fill="#ff0000"/>
<text x="100" y="200" font-size="27" transform="translate(957,295.2) scale(1.1706,0.8778) translate(-101,-187)" ><tspan font-style="italic">τ</tspan><tspan font-size="19" dy="5" font-style="italic">c</tspan></text>
<path d="M884.1,334.5H937.8" stroke="#000000" stroke-width="2.8"/>
<path d="M910.9,328.2 L909.49,332.55 L904.91,332.55 L908.61,335.24 L907.2,339.6 L910.9,336.91 L914.6,339.6 L913.19,335.24 L916.89,332.55 L912.31,332.55Z" fill="#000000" stroke="#000000" stroke-width="3.4" stroke-linejoin="round"/>
<text x="100" y="200" font-size="27" transform="translate(957,323.9) scale(1.2222,1.1261) translate(-101,-182)" ><tspan font-style="italic">τ</tspan><tspan font-size="19" dy="5" font-style="italic">t</tspan><tspan dy="-5" dx="2">/2</tspan></text>
<rect x="956.9" y="53.7" width="220.0000000000001" height="154.5" fill="#fff"/>
<path d="M956.9,208.2v-6.8M956.9,53.7v6.8M1061.66,208.2v-6.8M1061.66,53.7v6.8M1166.42,208.2v-6.8M1166.42,53.7v6.8M956.9,197.9h6.8M1176.9,197.9h-6.8M956.9,146.4h6.8M1176.9,146.4h-6.8M956.9,94.9h6.8M1176.9,94.9h-6.8" stroke="#000" stroke-width="1.5" fill="none"/>
<path d="M977.85,208.2v-3.7M977.85,53.7v3.7M998.8,208.2v-3.7M998.8,53.7v3.7M1019.76,208.2v-3.7M1019.76,53.7v3.7M1040.71,208.2v-3.7M1040.71,53.7v3.7M1082.61,208.2v-3.7M1082.61,53.7v3.7M1103.57,208.2v-3.7M1103.57,53.7v3.7M1124.52,208.2v-3.7M1124.52,53.7v3.7M1145.47,208.2v-3.7M1145.47,53.7v3.7M956.9,208.2h3.7M1176.9,208.2h-3.7M956.9,187.6h3.7M1176.9,187.6h-3.7M956.9,177.3h3.7M1176.9,177.3h-3.7M956.9,167h3.7M1176.9,167h-3.7M956.9,156.7h3.7M1176.9,156.7h-3.7M956.9,136.1h3.7M1176.9,136.1h-3.7M956.9,125.8h3.7M1176.9,125.8h-3.7M956.9,115.5h3.7M1176.9,115.5h-3.7M956.9,105.2h3.7M1176.9,105.2h-3.7M956.9,84.6h3.7M1176.9,84.6h-3.7M956.9,74.3h3.7M1176.9,74.3h-3.7M956.9,64h3.7M1176.9,64h-3.7M956.9,53.7h3.7M1176.9,53.7h-3.7" stroke="#000" stroke-width="1.3" fill="none"/>
<rect x="956.9" y="53.7" width="220" height="154.5" fill="none" stroke="#000" stroke-width="1.8" stroke-linejoin="miter"/>
<g clip-path="url(#ci)">
<path d="M956.9,54.32V133.83M950.4,54.32H963.4M950.4,133.83H963.4M959.52,51.74V136.41M953.02,51.74H966.02M953.02,136.41H966.02M962.14,49.27V138.88M955.64,49.27H968.64M955.64,138.88H968.64M964.76,47.93V140.22M958.26,47.93H971.26M958.26,140.22H971.26M967.38,47.73V140.43M960.88,47.73H973.88M960.88,140.43H973.88M970,45.46V142.69M963.5,45.46H976.5M963.5,142.69H976.5M972.61,45.25V142.9M966.11,45.25H979.11M966.11,142.9H979.11M975.23,42.99V145.16M968.73,42.99H981.73M968.73,145.16H981.73M977.85,58.85V135.07M971.35,58.85H984.35M971.35,135.07H984.35M980.47,64.52V139.7M973.97,64.52H986.97M973.97,139.7H986.97M983.09,75.95V142.69M976.59,75.95H989.59M976.59,142.69H989.59M985.71,89.13V154.23M979.21,89.13H992.21M979.21,154.23H992.21M988.33,100.46V160.2M981.83,100.46H994.83M981.83,160.2H994.83M998.8,138.88V170.81M992.3,138.88H1005.3M992.3,170.81H1005.3M1009.28,157.83V176.17M1002.78,157.83H1015.78M1002.78,176.17H1015.78M1019.76,161.33V178.84M1013.26,161.33H1026.26M1013.26,178.84H1026.26M1030.23,163.6V180.7M1023.73,163.6H1036.73M1023.73,180.7H1036.73M1040.71,165.45V181.52M1034.21,165.45H1047.21M1034.21,181.52H1047.21M1051.19,166.38V182.45M1044.69,166.38H1057.69M1044.69,182.45H1057.69M1061.66,167.1V182.55M1055.16,167.1H1068.16M1055.16,182.55H1068.16M1072.14,167.41V182.24M1065.64,167.41H1078.64M1065.64,182.24H1078.64M1082.61,167.41V182.24M1076.11,167.41H1089.11M1076.11,182.24H1089.11M1093.09,167.31V182.14M1086.59,167.31H1099.59M1086.59,182.14H1099.59M1103.57,167.21V182.04M1097.07,167.21H1110.07M1097.07,182.04H1110.07M1114.04,167.1V181.93M1107.54,167.1H1120.54M1107.54,181.93H1120.54M1124.52,167V181.83M1118.02,167H1131.02M1118.02,181.83H1131.02M1135,166.9V181.73M1128.5,166.9H1141.5M1128.5,181.73H1141.5M1145.47,166.79V181.63M1138.97,166.79H1151.97M1138.97,181.63H1151.97M1155.95,166.69V181.52M1149.45,166.69H1162.45M1149.45,181.52H1162.45M1166.42,166.48V181.32M1159.92,166.48H1172.92M1159.92,181.32H1172.92" stroke="#0000ff" stroke-width="2.2" fill="none"/>
<path d="M956.9,195.84V199.96M950.4,195.84H963.4M950.4,199.96H963.4M959.52,195.84V199.96M953.02,195.84H966.02M953.02,199.96H966.02M962.14,195.84V199.96M955.64,195.84H968.64M955.64,199.96H968.64M964.76,195.84V199.96M958.26,195.84H971.26M958.26,199.96H971.26M967.38,195.84V199.96M960.88,195.84H973.88M960.88,199.96H973.88M970,195.84V199.96M963.5,195.84H976.5M963.5,199.96H976.5M972.61,191.72V202.02M966.11,191.72H979.11M966.11,202.02H979.11M975.23,184.3V203.26M968.73,184.3H981.73M968.73,203.26H981.73M977.85,175.45V203.87M971.35,175.45H984.35M971.35,203.87H984.35M980.47,164.94V202.02M973.97,164.94H986.97M973.97,202.02H986.97M983.09,151.55V197.69M976.59,151.55H989.59M976.59,197.69H989.59M985.71,139.19V190.69M979.21,139.19H992.21M979.21,190.69H992.21M988.33,127.86V184.51M981.83,127.86H994.83M981.83,184.51H994.83M998.8,105.71V161.33M992.3,105.71H1005.3M992.3,161.33H1005.3M1009.28,99.02V151.96M1002.78,99.02H1015.78M1002.78,151.96H1015.78M1019.76,95.93V146.4M1013.26,95.93H1026.26M1013.26,146.4H1026.26M1030.23,93.56V144.44M1023.73,93.56H1036.73M1023.73,144.44H1036.73M1040.71,92.12V142.59M1034.21,92.12H1047.21M1034.21,142.59H1047.21M1051.19,92.84V141.04M1044.69,92.84H1057.69M1044.69,141.04H1057.69M1061.66,92.94V140.94M1055.16,92.94H1068.16M1055.16,140.94H1068.16M1072.14,93.25V140.63M1065.64,93.25H1078.64M1065.64,140.63H1078.64M1082.61,93.87V140.22M1076.11,93.87H1089.11M1076.11,140.22H1089.11M1093.09,94.49V139.81M1086.59,94.49H1099.59M1086.59,139.81H1099.59M1103.57,95.21V139.5M1097.07,95.21H1110.07M1097.07,139.5H1110.07M1114.04,95.93V139.19M1107.54,95.93H1120.54M1107.54,139.19H1120.54M1124.52,96.65V138.88M1118.02,96.65H1131.02M1118.02,138.88H1131.02M1135,97.37V138.57M1128.5,97.37H1141.5M1128.5,138.57H1141.5M1145.47,97.78V138.37M1138.97,97.78H1151.97M1138.97,138.37H1151.97M1155.95,98.3V138.06M1149.45,98.3H1162.45M1149.45,138.06H1162.45M1166.42,98.81V137.95M1159.92,98.81H1172.92M1159.92,137.95H1172.92" stroke="#ff0000" stroke-width="2.2" fill="none"/>
<path d="M956.9,94.08 L959.52,94.08 L962.14,94.08 L964.76,94.08 L967.38,94.08 L970,94.08 L972.61,94.08 L975.23,94.08 L977.85,96.96 L980.47,102.11 L983.09,109.32 L985.71,121.68 L988.33,130.33 L998.8,154.85 L1009.28,167 L1019.76,170.09 L1030.23,172.15 L1040.71,173.49 L1051.19,174.42 L1061.66,174.83 L1072.14,174.83 L1082.61,174.83 L1093.09,174.72 L1103.57,174.62 L1114.04,174.52 L1124.52,174.42 L1135,174.31 L1145.47,174.21 L1155.95,174.11 L1166.42,173.9" stroke="#0000ff" stroke-width="2.4" fill="none" stroke-linejoin="round"/>
<rect x="949.15" y="86.33" width="15.5" height="15.5" fill="#0000ff"/><rect x="951.77" y="86.33" width="15.5" height="15.5" fill="#0000ff"/><rect x="954.39" y="86.33" width="15.5" height="15.5" fill="#0000ff"/><rect x="957.01" y="86.33" width="15.5" height="15.5" fill="#0000ff"/><rect x="959.63" y="86.33" width="15.5" height="15.5" fill="#0000ff"/><rect x="962.25" y="86.33" width="15.5" height="15.5" fill="#0000ff"/><rect x="964.86" y="86.33" width="15.5" height="15.5" fill="#0000ff"/><rect x="967.48" y="86.33" width="15.5" height="15.5" fill="#0000ff"/><rect x="970.1" y="89.21" width="15.5" height="15.5" fill="#0000ff"/><rect x="972.72" y="94.36" width="15.5" height="15.5" fill="#0000ff"/><rect x="975.34" y="101.57" width="15.5" height="15.5" fill="#0000ff"/><rect x="977.96" y="113.93" width="15.5" height="15.5" fill="#0000ff"/><rect x="980.58" y="122.58" width="15.5" height="15.5" fill="#0000ff"/><rect x="991.05" y="147.1" width="15.5" height="15.5" fill="#0000ff"/><rect x="1001.53" y="159.25" width="15.5" height="15.5" fill="#0000ff"/><rect x="1012.01" y="162.34" width="15.5" height="15.5" fill="#0000ff"/><rect x="1022.48" y="164.4" width="15.5" height="15.5" fill="#0000ff"/><rect x="1032.96" y="165.74" width="15.5" height="15.5" fill="#0000ff"/><rect x="1043.44" y="166.67" width="15.5" height="15.5" fill="#0000ff"/><rect x="1053.91" y="167.08" width="15.5" height="15.5" fill="#0000ff"/><rect x="1064.39" y="167.08" width="15.5" height="15.5" fill="#0000ff"/><rect x="1074.86" y="167.08" width="15.5" height="15.5" fill="#0000ff"/><rect x="1085.34" y="166.97" width="15.5" height="15.5" fill="#0000ff"/><rect x="1095.82" y="166.87" width="15.5" height="15.5" fill="#0000ff"/><rect x="1106.29" y="166.77" width="15.5" height="15.5" fill="#0000ff"/><rect x="1116.77" y="166.67" width="15.5" height="15.5" fill="#0000ff"/><rect x="1127.25" y="166.56" width="15.5" height="15.5" fill="#0000ff"/><rect x="1137.72" y="166.46" width="15.5" height="15.5" fill="#0000ff"/><rect x="1148.2" y="166.36" width="15.5" height="15.5" fill="#0000ff"/><rect x="1158.67" y="166.15" width="15.5" height="15.5" fill="#0000ff"/>
<path d="M956.9,197.9 L959.52,197.9 L962.14,197.9 L964.76,197.9 L967.38,197.9 L970,197.9 L972.61,196.87 L975.23,193.78 L977.85,189.66 L980.47,183.48 L983.09,174.62 L985.71,164.94 L988.33,156.19 L998.8,133.52 L1009.28,125.49 L1019.76,121.16 L1030.23,119 L1040.71,117.35 L1051.19,116.94 L1061.66,116.94 L1072.14,116.94 L1082.61,117.05 L1093.09,117.15 L1103.57,117.35 L1114.04,117.56 L1124.52,117.77 L1135,117.97 L1145.47,118.07 L1155.95,118.18 L1166.42,118.38" stroke="#ff0000" stroke-width="2.4" fill="none" stroke-linejoin="round"/>
<circle cx="956.9" cy="197.9" r="7.75" fill="#ff0000"/><circle cx="959.52" cy="197.9" r="7.75" fill="#ff0000"/><circle cx="962.14" cy="197.9" r="7.75" fill="#ff0000"/><circle cx="964.76" cy="197.9" r="7.75" fill="#ff0000"/><circle cx="967.38" cy="197.9" r="7.75" fill="#ff0000"/><circle cx="970" cy="197.9" r="7.75" fill="#ff0000"/><circle cx="972.61" cy="196.87" r="7.75" fill="#ff0000"/><circle cx="975.23" cy="193.78" r="7.75" fill="#ff0000"/><circle cx="977.85" cy="189.66" r="7.75" fill="#ff0000"/><circle cx="980.47" cy="183.48" r="7.75" fill="#ff0000"/><circle cx="983.09" cy="174.62" r="7.75" fill="#ff0000"/><circle cx="985.71" cy="164.94" r="7.75" fill="#ff0000"/><circle cx="988.33" cy="156.19" r="7.75" fill="#ff0000"/><circle cx="998.8" cy="133.52" r="7.75" fill="#ff0000"/><circle cx="1009.28" cy="125.49" r="7.75" fill="#ff0000"/><circle cx="1019.76" cy="121.16" r="7.75" fill="#ff0000"/><circle cx="1030.23" cy="119" r="7.75" fill="#ff0000"/><circle cx="1040.71" cy="117.35" r="7.75" fill="#ff0000"/><circle cx="1051.19" cy="116.94" r="7.75" fill="#ff0000"/><circle cx="1061.66" cy="116.94" r="7.75" fill="#ff0000"/><circle cx="1072.14" cy="116.94" r="7.75" fill="#ff0000"/><circle cx="1082.61" cy="117.05" r="7.75" fill="#ff0000"/><circle cx="1093.09" cy="117.15" r="7.75" fill="#ff0000"/><circle cx="1103.57" cy="117.35" r="7.75" fill="#ff0000"/><circle cx="1114.04" cy="117.56" r="7.75" fill="#ff0000"/><circle cx="1124.52" cy="117.77" r="7.75" fill="#ff0000"/><circle cx="1135" cy="117.97" r="7.75" fill="#ff0000"/><circle cx="1145.47" cy="118.07" r="7.75" fill="#ff0000"/><circle cx="1155.95" cy="118.18" r="7.75" fill="#ff0000"/><circle cx="1166.42" cy="118.38" r="7.75" fill="#ff0000"/>
<path d="M983.09,208.2V53.7" stroke="#ffa500" stroke-width="2.3" stroke-dasharray="8.55 3.7" stroke-dashoffset="0" fill="none"/>
<path d="M1061.66,208.2V53.7" stroke="#008000" stroke-width="2.3" stroke-dasharray="8.55 3.7" stroke-dashoffset="0" fill="none"/>
</g>
<text x="956.9" y="234.3" font-size="24.5" text-anchor="middle" >0</text>
<text x="1061.66" y="234.3" font-size="24.5" text-anchor="middle" >5</text>
<text x="1166.42" y="234.3" font-size="24.5" text-anchor="middle" >10</text>
<text transform="translate(949.4,207.2) scale(1.04,1)" font-size="24.5" text-anchor="end">0.0</text>
<text transform="translate(949.4,155.7) scale(1.04,1)" font-size="24.5" text-anchor="end">0.5</text>
<text transform="translate(949.4,104.2) scale(1.04,1)" font-size="24.5" text-anchor="end">1.0</text>
<text x="100" y="200" font-size="24.5" transform="translate(1021.3,236.6) scale(1.1853,0.8960) translate(-101,-180)" ><tspan font-style="italic">v</tspan><tspan font-size="17" dy="-9">0</tspan><tspan dy="9">(</tspan><tspan font-style="italic">m</tspan>/<tspan font-style="italic">s</tspan>)</text>
<text x="100" y="200" font-size="24.5" transform="translate(886.3,171.7) rotate(-90) scale(1.1565,0.9542) translate(-101,-183)" ><tspan font-style="italic">τ</tspan><tspan font-size="17" dy="5" font-style="italic">s</tspan><tspan font-size="17">,</tspan><tspan font-size="17" dy="0" font-style="italic">c</tspan><tspan dy="-5">(</tspan><tspan font-style="italic">Pa</tspan>)</text>
<g clip-path="url(#cab)"><text class="sans" x="344.5" y="625.5" font-size="37" text-anchor="middle" style="font-family:'Liberation Sans',sans-serif;font-weight:bold">(a)</text><text class="sans" x="1115.9" y="625.5" font-size="37" text-anchor="middle" style="font-family:'Liberation Sans',sans-serif;font-weight:bold">(b)</text></g>
</svg></body></html>
